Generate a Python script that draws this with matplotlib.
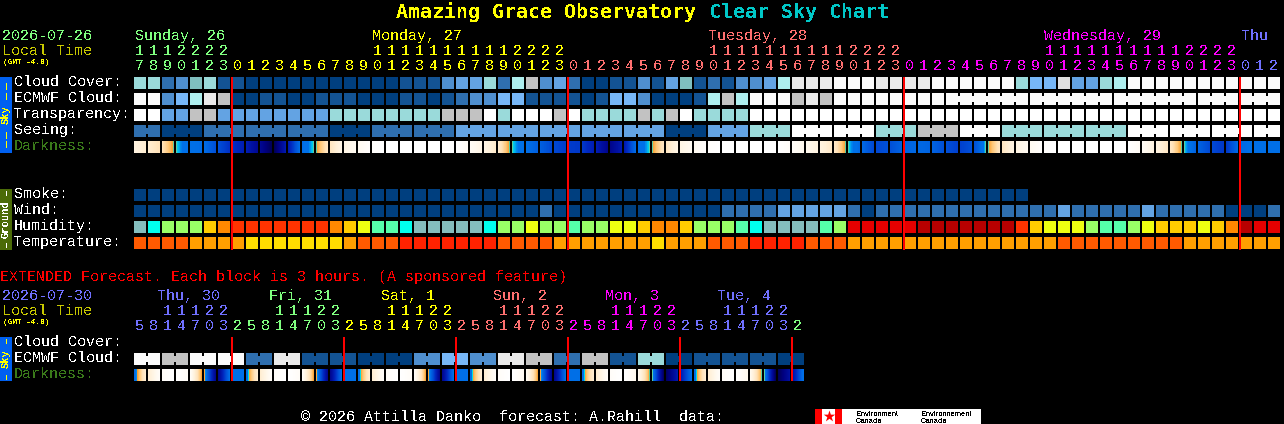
import numpy as np
import matplotlib
matplotlib.use("Agg")
import matplotlib.pyplot as plt
from matplotlib.colors import LinearSegmentedColormap

plt.rcParams['text.antialiased'] = False

# ---- palettes: category index -> colour
CLOUD = ['#003F7F', '#135393', '#2F6FAF', '#4F8FCF', '#63A3E3', '#77B7F7', '#7FBFBF',
         '#9ADADA', '#AEEEEE', '#C2C2C2', '#E0E0E0', '#EAEAEA', '#FBFBFB', '#FFFFFF']
HUM = {'t': '#84BEBE', 'c': '#00FFEE', 'g': '#99FF66', 'm': '#55FFAA', 'l': '#EEFF11',
       'y': '#FFCC00', 'o': '#FF8800', 'r': '#FF3300', 'e': '#E60000', 'd': '#B80000'}
TEMP = {'d': '#FF2200', 'o': '#FF5A00', 'a': '#FF9F00', 'y': '#FFDD00'}

# ---- main forecast (hourly)
main_hours = [17, 18, 19, 20, 21, 22, 23,
              0, 1, 2, 3, 4, 5, 6, 7, 8, 9, 10, 11, 12, 13, 14, 15, 16, 17, 18, 19, 20, 21, 22, 23,
              0, 1, 2, 3, 4, 5, 6, 7, 8, 9, 10, 11, 12, 13, 14, 15, 16, 17, 18, 19, 20, 21, 22, 23,
              0, 1, 2, 3, 4, 5, 6, 7, 8, 9, 10, 11, 12, 13, 14, 15, 16, 17, 18, 19, 20, 21, 22, 23,
              0, 1, 2]
main_hour_colors = ['#80FF80'] * 7 + ['#FFFF00'] * 24 + ['#FF7070'] * 24 + ['#FF00FF'] * 24 + ['#7070FF'] * 3
day_labels = ['Sunday, 26', 'Monday, 27', 'Tuesday, 28', 'Wednesday, 29', 'Thu']
day_x = [135, 372, 708, 1044, 1241]
day_colors = ['#80FF80', '#FFFF00', '#FF7070', '#FF00FF', '#7070FF']

cloud_cover = [7, 7, 2, 3, 6, 7, 1, 1, 0, 0, 0, 0, 0, 0, 0, 0, 0, 0, 0, 1, 1,
               1, 3, 4, 4, 7, 2, 8, 9, 3, 4, 2, 0, 0, 1, 1, 3, 1, 4, 6, 1, 2, 1, 3, 3, 4, 8,
               11, 11, 11, 12, 12, 12, 11, 11, 11, 11, 12, 12, 12, 12, 12, 12,
               7, 5, 5, 10, 4, 4, 7, 8, 12, 12, 12, 12, 12, 12, 12, 12, 12, 12, 12]
ecmwf_cloud = [12, 12, 3, 5, 8, 11, 9, 0, 0, 1, 1, 0, 0, 1, 1, 1, 0, 0, 0, 1, 1,
               0, 1, 2, 3, 3, 5, 5, 1, 1, 1, 1, 0, 1, 5, 5, 3, 0, 0, 0, 1, 8, 9, 8,
               12, 12, 12, 9, 11, 9, 12, 12, 12, 12, 12, 12, 12, 12, 12, 12, 12, 12, 12,
               12, 12, 12, 12, 12, 12, 12, 12, 12, 12, 12, 12, 12, 12, 12, 12, 12, 12, 12]
ecmwf_groups = [1] * 58 + [6, 6, 6, 3, 3]
transparency = [13, 13, 4, 4, 9, 9, 4, 4, 4, 4, 4, 4, 4, 4,
                7, 7, 7, 7, 7, 7, 7, 7, 9, 9, 9, 13, 7, 13, 13, 13, 9, 13,
                7, 7, 7, 7, 9, 7, 9, 13, 7, 7, 7, 7,
                13, 13, 13, 13, 13, 13, 13, 13, 13, 13, 13, 13, 13, 13, 13, 13, 13, 13, 13,
                13, 13, 13, 13, 13, 13, 13, 13, 13, 13, 13, 13, 13, 13, 13, 13, 13, 13, 13]
seeing = [2, 2, 0, 0, 0, 2, 2, 2, 2, 2, 2, 2, 2, 2, 0, 0, 0, 2, 2, 2, 2, 2, 2,
          4, 4, 4, 4, 4, 4, 4, 4, 4, 4, 4, 4, 4, 4, 4, 0, 0, 0, 4, 4, 4, 7, 7, 7,
          13, 13, 13, 13, 13, 13, 7, 7, 7, 9, 9, 9, 13, 13, 13, 7, 7, 7, 7, 7, 7, 7, 7, 7,
          13, 13, 13, 13, 13, 13, 13, 13, 13, 13, 13]
seeing_groups = [2] + [3] * 26 + [2]
darkness = [.16, .22, .30, .445, .50, .51, .60, .68, .74, .84, .97, .75, .51, .445, .27, .14, .08, .02,
            0, 0, 0, 0, 0, 0, .06, .14, .24, .445, .50, .55, .62, .65, .66, .74, .86, .75, .51, .445,
            .27, .14, .08, .02, 0, 0, 0, 0, 0, .04, .10, .16, .25, .445, .52, .62, .60, .54, .52, .54,
            .60, .64, .60, .445, .27, .15, .08, .02, 0, 0, 0, 0, 0, 0, .06, .16, .26, .445, .54, .62,
            .66, .52, .50, .50, .50]
smoke = [0] * 64
wind = [0, 0, 0, 0, 0, 0, 0, 0, 0, 0, 0, 0, 0, 0, 0, 0, 0, 0, 0, 0, 0, 0, 0, 0, 0, 0, 0, 0, 0,
        2, 0, 0, 0, 0, 0, 0, 0, 0, 0, 0, 0, 0, 2, 2, 2, 2, 4, 4, 4, 4, 4, 2,
        0, 2, 2, 2, 2, 2, 2, 2, 2, 2, 2, 2, 2, 2, 4, 2, 2, 2, 2, 2, 4, 2, 2, 2, 2, 2, 0, 0, 0, 2]
humidity = list('tcgggyorrrrrrroylmmct' 'tttt' 'cgglggmgglly' 'ooy' 'gggmc' 'tttt' 'mge'
                'eeeeddddddd' 'rylllgmmgl' 'yyyly' 'odee')
temperature = list('ooooaaaayyyyyyyaoooddd' 'dddd' 'oooo' 'aaaaaaa' 'y' 'aaa' 'ooo' 'dddd' 'ooo'
                   'a' 'aaaaaaaaaaaaaa' 'ooooooooo' 'aaaaaaa')

# ---- extended forecast (3-hourly)
ext_hours = [5, 8, 11, 14, 17, 20, 23,
             2, 5, 8, 11, 14, 17, 20, 23,
             2, 5, 8, 11, 14, 17, 20, 23,
             2, 5, 8, 11, 14, 17, 20, 23,
             2, 5, 8, 11, 14, 17, 20, 23,
             2, 5, 8, 11, 14, 17, 20, 23,
             2]
ext_hour_colors = ['#7070FF'] * 7 + ['#80FF80'] * 8 + ['#FFFF00'] * 8 + ['#FF7070'] * 8 + \
                  ['#FF00FF'] * 8 + ['#7070FF'] * 8 + ['#80FF80']
ext_labels = ['Thu, 30', 'Fri, 31', 'Sat, 1', 'Sun, 2', 'Mon, 3', 'Tue, 4']
ext_x = [157, 269, 381, 493, 605, 717]
ext_colors = ['#7070FF', '#80FF80', '#FFFF00', '#FF7070', '#FF00FF', '#7070FF']
ext_ecmwf = [12, 12, 9, 9, 12, 12, 12, 12, 2, 2, 11, 11, 1, 1, 1, 1, 0, 0, 0, 0, 3, 3, 5, 5,
             3, 3, 11, 11, 9, 9, 2, 2, 9, 9, 1, 1, 7, 7, 0, 0, 1, 1, 1, 1, 1, 1, 0, 0]
ext_groups = [2] * 24
ext_darkness = [.52, .22, .04, 0, .05, .43, .85, .50, .50, .22, .04, 0, .05, .43, .85, .50, .50,
                .22, .04, 0, .05, .43, .85, .50, .50, .22, .04, 0, .08, .43, .85, .50, .50,
                .22, .04, 0, .10, .445, .95, .75, .50, .22, .04, 0, .10, .445, .97, .80, .48]

# ---- layout
X0, PITCH, BOX = 134, 14, 12
MONO = 'Liberation Mono'
FS = 10.8

dark_cmap = LinearSegmentedColormap.from_list('dark', [
    (0.00, '#FFFFFF'), (0.10, '#FFF9EE'), (0.20, '#FFF0D8'), (0.30, '#FFE2B8'), (0.38, '#FFC878'),
    (0.44, '#F9A030'), (0.445, '#00E8E8'), (0.46, '#00A0F0'), (0.475, '#0070E8'), (0.50, '#0070E8'),
    (0.60, '#0050D8'), (0.70, '#0028C0'), (0.80, '#000FA0'), (0.90, '#000080'), (1.00, '#000048')])

fig = plt.figure(figsize=(12.84, 4.24), dpi=100, facecolor='black')
ax = fig.add_axes([0, 0, 1, 1])
ax.set_xlim(0, 1284)
ax.set_ylim(424, 0)
ax.axis('off')


def txt(x, y, s, color='white', size=FS, **kw):
    kw.setdefault('family', MONO)
    ax.text(x, y, s, color=color, fontsize=size, ha=kw.pop('ha', 'left'),
            va=kw.pop('va', 'baseline'), **kw)


def box(x, top, w, h, color, zorder=1):
    ax.bar(x, h, bottom=top, width=w, color=color, align='edge', linewidth=0, zorder=zorder)


def row(top, colors, groups=None):
    n = len(colors)
    xs = X0 + PITCH * np.arange(n)
    box(xs, top, BOX, BOX, colors)
    if groups:
        i = 0
        for g in groups:
            for j in range(i, i + g - 1):
                box(xs[j] + BOX, top + 3, PITCH - BOX, 6, colors[j])
            i += g


def dark_row(top, edges):
    for i in range(len(edges) - 1):
        x = X0 + PITCH * i
        grad = np.linspace(edges[i], edges[i + 1], BOX)[None, :]
        ax.imshow(grad, cmap=dark_cmap, vmin=0, vmax=1, extent=(x, x + BOX, top + BOX, top),
                  aspect='auto', interpolation='nearest', zorder=2)
    ax.set_xlim(0, 1284)
    ax.set_ylim(424, 0)


def hour_rows(y_tens, y_units, hours, colors):
    for i, (h, c) in enumerate(zip(hours, colors)):
        xc = X0 + PITCH * i + 5.5
        txt(xc, y_units, str(h % 10), c, ha='center')
        if h >= 10:
            txt(xc, y_tens, str(h // 10), c, ha='center')


# title
txt(396, 18, 'Amazing Grace Observatory', '#FFFF00', size=14.4, weight='bold', family='DejaVu Sans Mono')
txt(709, 18, 'Clear Sky Chart', '#00C8C8', size=14.4, weight='bold', family='DejaVu Sans Mono')

# main header
txt(2, 40, '2026-07-26', '#80FF80')
txt(2, 55, 'Local Time', '#C8C800')
txt(3, 64.5, '(GMT -4.0)', '#FFFF00', size=5.6, weight='bold')
for x, s, c in zip(day_x, day_labels, day_colors):
    txt(x, 40, s, c)
hour_rows(55, 70, main_hours, main_hour_colors)

# side bars
box(0, 77, 12, 76, '#0060F0')
box(0, 189, 12, 61, '#4B6B08')
box(0, 337, 12, 44, '#0060F0')


def vlabel(yc, s, color, dashes, dash_len):
    txt(6, yc, s, color, size=7.6, rotation=90, ha='center', va='center', weight='bold')
    for d in dashes:
        box(5.5, d - dash_len / 2, 1, dash_len, color, zorder=2)


vlabel(115, 'Sky', '#FFFF00', [86.5, 96.5, 135.5, 144.5], 7)
vlabel(219.5, 'Ground', 'white', [193, 245.5], 5)
vlabel(359, 'Sky', '#FFFF00', [341, 377], 5)

# labels
for top, s, c in [(77, 'Cloud Cover:', 'white'), (93, 'ECMWF Cloud:', 'white'),
                  (109, 'Transparency:', 'white'), (125, 'Seeing:', 'white'),
                  (141, 'Darkness:', '#3A7A1A'), (189, 'Smoke:', 'white'), (205, 'Wind:', 'white'),
                  (221, 'Humidity:', 'white'), (237, 'Temperature:', 'white'),
                  (337, 'Cloud Cover:', 'white'), (353, 'ECMWF Cloud:', 'white'),
                  (369, 'Darkness:', '#3A7A1A')]:
    txt(14, top + 9, s, c)

# main rows
row(77, [CLOUD[v] for v in cloud_cover])
row(93, [CLOUD[v] for v in ecmwf_cloud], ecmwf_groups)
row(109, [CLOUD[v] for v in transparency])
row(125, [CLOUD[v] for v in seeing], seeing_groups)
dark_row(141, darkness)
row(189, [CLOUD[v] for v in smoke])
row(205, [CLOUD[v] for v in wind])
row(221, [HUM[v] for v in humidity])
row(237, [TEMP[v] for v in temperature])

# midnight lines
for i, h in enumerate(main_hours):
    if h == 0:
        box(X0 + PITCH * i - 1, 77, 2, 173, '#FF0000', zorder=5)

# extended
txt(0, 281, 'EXTENDED Forecast. Each block is 3 hours. (A sponsored feature)', '#FF0000')
txt(2, 300, '2026-07-30', '#7070FF')
txt(2, 315, 'Local Time', '#C8C800')
txt(3, 324.5, '(GMT -4.0)', '#FFFF00', size=5.6, weight='bold')
for x, s, c in zip(ext_x, ext_labels, ext_colors):
    txt(x, 300, s, c)
hour_rows(315, 330, ext_hours, ext_hour_colors)
row(353, [CLOUD[v] for v in ext_ecmwf], ext_groups)
dark_row(369, ext_darkness)
for i in range(len(ext_hours)):
    if ext_hours[i] == 2:
        box(X0 + PITCH * i - 1, 337, 2, 44, '#FF0000', zorder=5)

# footer
txt(301, 421, '\u00a9 2026 Attilla Danko  forecast: A.Rahill  data:')
box(815, 409, 166, 15, 'white')
box(815, 409, 7, 15, '#FF0000', zorder=3)
box(835, 409, 7, 15, '#FF0000', zorder=3)
ax.scatter([828.5], [416], marker='*', s=75, c='#FF0000', linewidths=0, zorder=3)
for x, a in [(856, 'Environment'), (921, 'Environnement')]:
    ax.text(x, 415.5, a, color='black', fontsize=5.4, family='Liberation Sans', zorder=4)
    ax.text(x, 423, 'Canada', color='black', fontsize=5.4, family='Liberation Sans', zorder=4)

fig.savefig('out.png', dpi=100, facecolor='black')
